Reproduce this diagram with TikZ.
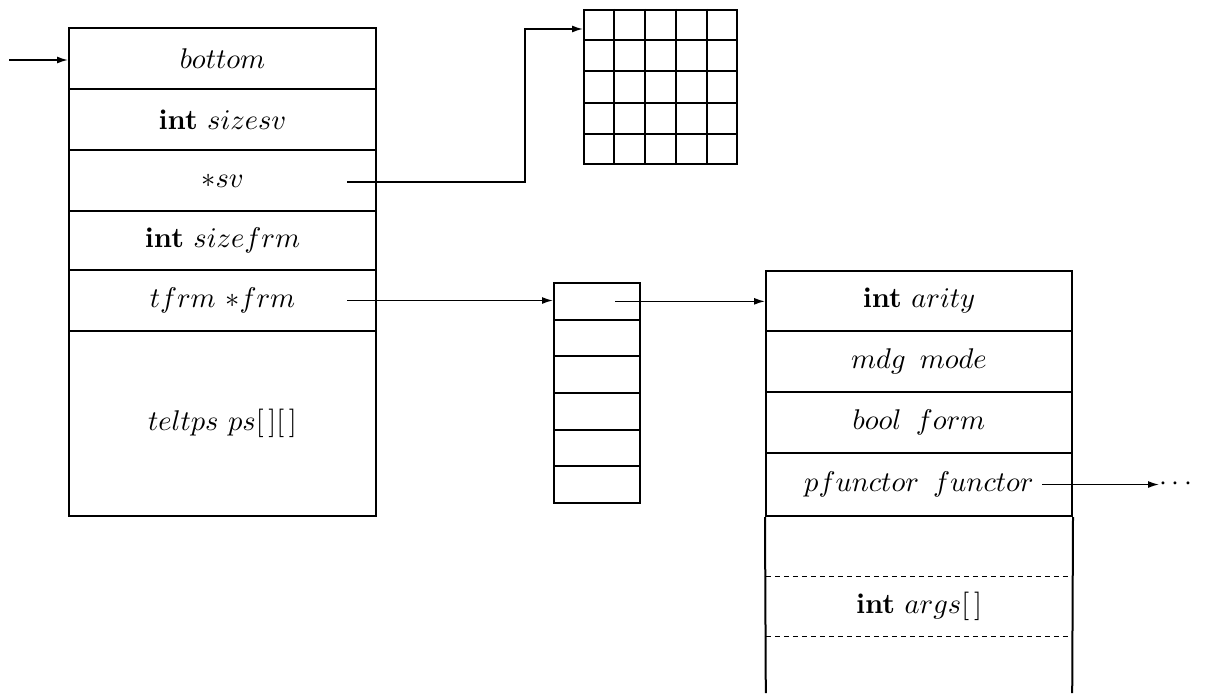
\documentclass[tikz,border=0pt]{standalone}
\usepackage{graphicx}
\usetikzlibrary{arrows.meta,calc}
\newcommand{\lbl}[1]{\scalebox{2.85}{#1}}
\begin{document}
\begin{tikzpicture}[x=1pt,y=-1pt,
  frame/.style={draw, line width=2pt, inner sep=0pt},
  lrow/.style={frame, minimum width=307pt},
  rrow/.style={frame, minimum width=306pt},
  srow/.style={frame, minimum width=86pt, minimum height=36.67pt},
  blank/.style={inner sep=0pt, minimum width=306pt},
  side/.style={line width=2pt},
  dline/.style={line width=1.4pt, dash pattern=on 5pt off 4pt},
  gline/.style={line width=2pt},
  arr/.style={-{Latex[length=11pt,width=7pt]}, line width=1.5pt}]
\useasboundingbox (0,0) rectangle (1209,693);

% left structure
\node[lrow, minimum height=61pt] (bottom)  at (222.5,58.5)  {\lbl{$bottom$}};
\node[lrow, minimum height=61pt] (sizesv)  at (222.5,119.5) {\lbl{\textbf{int} $sizesv$}};
\node[lrow, minimum height=61pt] (sv)      at (222.5,180.5) {\lbl{${\ast}sv$}};
\node[lrow, minimum height=59pt] (sizefrm) at (222.5,240.5) {\lbl{\textbf{int} $sizefrm$}};
\node[lrow, minimum height=61pt] (tfrm)    at (222.5,300.5) {\lbl{$tfrm\ {\ast}frm$}};
\node[lrow, minimum height=185pt] (teltps) at (222.5,423.5) {\lbl{$teltps\ ps[\,][\,]$}};

% grid
\node[frame, minimum width=153pt, minimum height=154pt] (grid) at (660.5,87) {};
\foreach \i in {1,...,4} {
  \draw[gline] ($(grid.north west)!\i/5!(grid.north east)$) -- ($(grid.south west)!\i/5!(grid.south east)$);
  \draw[gline] ($(grid.north west)!\i/5!(grid.south west)$) -- ($(grid.north east)!\i/5!(grid.south east)$);
}

% small array
\foreach \i in {1,...,6} {
  \node[srow] (a\i) at (597,{283+36.67*(\i-0.5)}) {};
}

% right structure
\node[rrow, minimum height=60pt] (arity)   at (919,301)   {\lbl{\textbf{int} $arity$}};
\node[rrow, minimum height=61pt] (mode)    at (919,361.5) {\lbl{$mdg\ \,mode$}};
\node[rrow, minimum height=61pt] (form)    at (919,422.5) {\lbl{$bool\ \,form$}};
\node[rrow, minimum height=63pt] (functor) at (919,484.5) {\lbl{$pfunctor\ \,functor$}};
\node[blank, minimum height=60pt] (e1)   at (919,546) {};
\node[blank, minimum height=60pt] (args) at (919,606) {\lbl{\textbf{int} $args[\,]$}};
\node[blank, minimum height=57pt] (e2)   at (919,664.5) {};
\draw[side] (functor.south west) -- (e2.south west);
\draw[side] (functor.south east) -- (e2.south east);
\draw[dline] (e1.south west) -- (e1.south east);
\draw[dline] (args.south west) -- (args.south east);

% connectors
\coordinate (in) at (9,60);
\draw[arr] (in) -- (in -| bottom.west);

\coordinate (svp) at ($(sv.east)+(-30,1.5)$);
\coordinate (gin) at ($(grid.north west)+(0,20)$);
\coordinate (bend) at (525,0);
\draw[arr] (svp) -- (svp -| bend) |- (gin);

\coordinate (tp) at ($(tfrm.east)+(-30,0)$);
\draw[arr] (tp) -- (tp -| a1.west);

\coordinate (ap) at ($(a1.center)+(18,0)$);
\draw[arr] (ap) -- (ap -| arity.west);

\coordinate (fp) at ($(functor.east)+(-31,0)$);
\node[inner sep=0pt, anchor=west] (dots) at (1159,484.5) {\lbl{$\cdots$}};
\draw[arr] (fp) -- (fp -| dots.west);
\end{tikzpicture}
\end{document}
